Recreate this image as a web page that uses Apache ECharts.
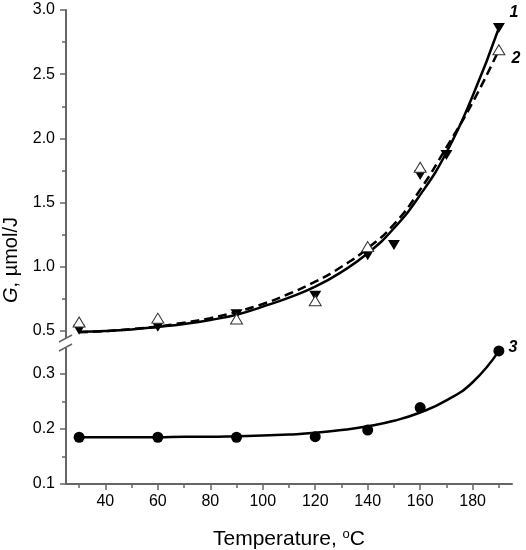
<!DOCTYPE html>
<html><head><meta charset="utf-8">
<script src="https://cdn.jsdelivr.net/npm/echarts@6/dist/echarts.min.js"></script>
<style>html,body{margin:0;padding:0;background:#fff}#c{width:526px;height:550px}</style>
</head><body><div id="c"></div>
<script>
// measured points
const temps1 = [30, 60, 90, 120, 140, 150, 160, 170, 190];
const g1 = [0.51, 0.534, 0.63, 0.775, 1.09, 1.17, 1.715, 1.87, 2.86];
const temps2 = [30, 60, 90, 120, 140, 160, 190];
const g2 = [0.57, 0.60, 0.593, 0.736, 1.157, 1.775, 2.69];
const temps3 = [30, 60, 90, 120, 140, 160, 190];
const g3 = [0.185, 0.185, 0.185, 0.186, 0.198, 0.239, 0.342];
// fitted curves
const curveT = [30, 40, 50, 60, 70, 80, 90, 100, 110, 120, 130, 140, 150, 160, 170, 180, 190];
const fit1 = [0.495, 0.50, 0.512, 0.532, 0.555, 0.586, 0.627, 0.69, 0.76, 0.845, 0.96, 1.105, 1.30, 1.56, 1.89, 2.33, 2.86];
const fit2 = [0.49, 0.50, 0.515, 0.535, 0.565, 0.60, 0.65, 0.71, 0.79, 0.884, 1.00, 1.144, 1.33, 1.60, 1.93, 2.28, 2.69];
const fit3 = [0.185, 0.185, 0.185, 0.185, 0.186, 0.186, 0.187, 0.188, 0.190, 0.193, 0.198, 0.205, 0.215, 0.230, 0.252, 0.285, 0.342];
const curveNames = ['1', '2', '3'];
// axis ticks
const xMajor = [40, 60, 80, 100, 120, 140, 160, 180];
const xMinor = [30, 50, 70, 90, 110, 130, 150, 170, 190];
const xRange = [25, 195];
const yUpperRange = [0.5, 3.0];   // axis line continues a little below 0.5 to the break
const yUpperStep = 0.5;
const yLowerRange = [0.1, 0.3];   // axis line continues a little above 0.3 to the break
const yLowerStep = 0.1;

const FONT = "'Liberation Sans', Arial, sans-serif";
const AX = '#666';
const zip = (a, b) => a.map((v, i) => [v, b[i]]);
function withEndLabel(data, text, offset) {
  const d = data.slice();
  const last = d.length - 1;
  d[last] = { value: d[last], label: { show: true, position: 'inside', offset: offset, formatter: text,
    fontFamily: FONT, fontSize: 16, fontWeight: 'bold', fontStyle: 'italic', color: '#000' } };
  return d;
}

const chart = echarts.init(document.getElementById('c'), null, { renderer: 'canvas' });
const labelStyle = { color: '#000', fontSize: 16, fontFamily: FONT };
const L = 66, W = 446;
const upperRect = { left: L, width: W, top: 10, height: 321, outerBoundsMode: 'none' };
const lowerRect = { left: L, width: W, top: 374, height: 110, outerBoundsMode: 'none' };
const minorXRect = { left: L, width: W, top: 374, height: 110, outerBoundsMode: 'none' };

function mainY(grid, range, step) {
  return { type: 'value', gridIndex: grid, position: 'left', min: range[0], max: range[1], interval: step,
    axisLine: { show: true, lineStyle: { color: AX, width: 2 } },
    axisTick: { show: true, inside: false, length: 6, lineStyle: { color: AX, width: 1.5 } },
    minorTick: { show: true, splitNumber: 2, length: 4, lineStyle: { color: AX, width: 1.5 } },
    axisLabel: Object.assign({ margin: 11, formatter: v => v.toFixed(1) }, labelStyle),
    splitLine: { show: false }, minorSplitLine: { show: false } };
}

const option = {
  animation: false,
  backgroundColor: '#fff',
  grid: [upperRect, lowerRect, minorXRect],
  xAxis: [
    { type: 'value', gridIndex: 0, min: xRange[0], max: xRange[1], show: false },
    { type: 'value', gridIndex: 1, position: 'bottom', min: xRange[0], max: xRange[1],
      axisLine: { show: true, lineStyle: { color: AX, width: 2 } },
      axisTick: { show: true, inside: false, length: 6, lineStyle: { color: AX, width: 1.5 }, customValues: xMajor },
      axisLabel: Object.assign({ margin: 10, customValues: xMajor }, labelStyle),
      splitLine: { show: false },
      name: '{a|Temperature, }{s|o}{a|C}', nameLocation: 'middle', nameGap: 44,
      nameTextStyle: { fontFamily: FONT, fontSize: 20, color: '#000',
        rich: { a: { fontFamily: FONT, fontSize: 21, color: '#000', lineHeight: 22 },
                s: { fontFamily: FONT, fontSize: 13, color: '#000', verticalAlign: 'top', lineHeight: 12 } } } },
    { type: 'value', gridIndex: 2, position: 'bottom', min: xRange[0], max: xRange[1],
      axisLine: { show: false },
      axisTick: { show: true, inside: false, length: 4, lineStyle: { color: AX, width: 1.5 }, customValues: xMinor },
      axisLabel: { show: false, customValues: xMinor },
      splitLine: { show: false } }
  ],
  yAxis: [
    mainY(0, yUpperRange, yUpperStep),
    mainY(1, yLowerRange, yLowerStep),
    { type: 'value', gridIndex: 2, min: 0, max: 1, show: false }
  ],
  graphic: [
    { type: 'text', x: 11, y: 260, rotation: Math.PI / 2,
      style: { text: '{i|G}{n|, µmol/J}', align: 'center', verticalAlign: 'middle',
        rich: { i: { fontFamily: FONT, fontSize: 20, fontStyle: 'italic', fill: '#000' },
                n: { fontFamily: FONT, fontSize: 20, fill: '#000' } } } },
    // axis line continuations up to the break marks
    { type: 'line', shape: { x1: L, y1: 330, x2: L, y2: 338 }, style: { stroke: AX, lineWidth: 2 } },
    { type: 'line', shape: { x1: L, y1: 347.5, x2: L, y2: 375 }, style: { stroke: AX, lineWidth: 2 } },
    // break marks
    { type: 'line', shape: { x1: 59, y1: 342, x2: 72, y2: 335 }, style: { stroke: AX, lineWidth: 1.5 } },
    { type: 'line', shape: { x1: 59, y1: 351, x2: 72, y2: 344 }, style: { stroke: AX, lineWidth: 1.5 } }
  ],
  series: [
    { type: 'line', xAxisIndex: 0, yAxisIndex: 0, data: zip(curveT, fit1), smooth: true, symbol: 'none', clip: false,
      lineStyle: { color: '#000', width: 2.5 }, z: 2 },
    { type: 'line', xAxisIndex: 0, yAxisIndex: 0, data: zip(curveT, fit2), smooth: true, symbol: 'none', clip: false,
      lineStyle: { color: '#000', width: 2.5, type: [9, 5] }, z: 2 },
    { type: 'scatter', xAxisIndex: 0, yAxisIndex: 0, data: withEndLabel(zip(temps1, g1), curveNames[0], [15, -15]),
      symbol: 'triangle', symbolRotate: 180, symbolSize: [12, 10], clip: false,
      itemStyle: { color: '#000', opacity: 1 }, z: 3 },
    { type: 'scatter', xAxisIndex: 0, yAxisIndex: 0, data: withEndLabel(zip(temps2, g2), curveNames[1], [17, 9]),
      symbol: 'triangle', symbolSize: [12, 10], clip: false,
      itemStyle: { color: '#fff', borderColor: '#333', borderWidth: 1, opacity: 1 }, z: 4 },
    { type: 'line', xAxisIndex: 1, yAxisIndex: 1, data: zip(curveT, fit3), smooth: true, symbol: 'none', clip: false,
      lineStyle: { color: '#000', width: 2.5 }, z: 2 },
    { type: 'scatter', xAxisIndex: 1, yAxisIndex: 1, data: withEndLabel(zip(temps3, g3), curveNames[2], [14, -3]),
      symbol: 'circle', symbolSize: 11, clip: false,
      itemStyle: { color: '#000', opacity: 1 }, z: 3 }
  ]
};
chart.setOption(option);
</script>
</body></html>
